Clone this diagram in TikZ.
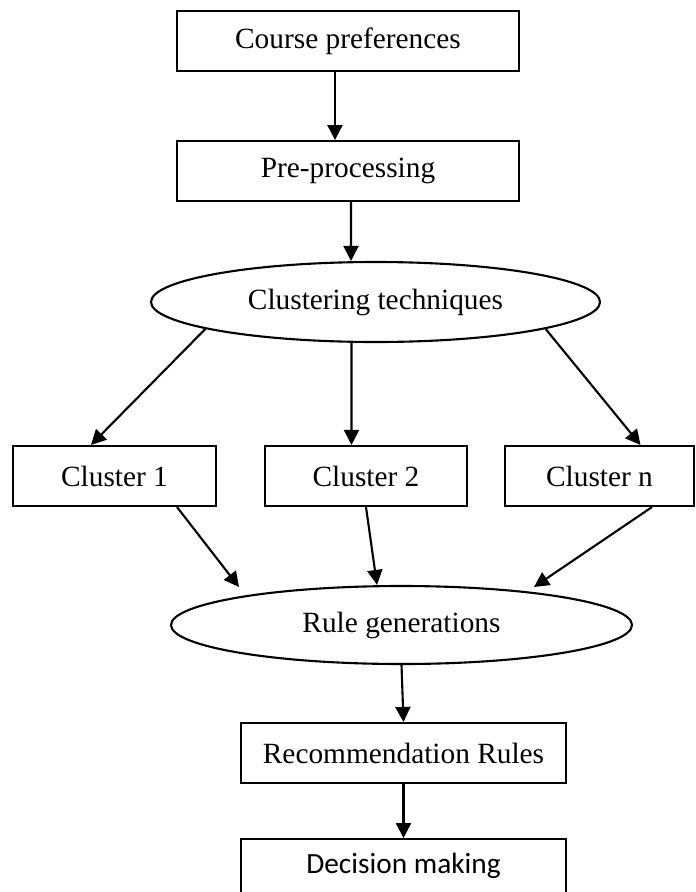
\documentclass[tikz,border=0pt]{standalone}
\usepackage{fontspec}
\setmainfont{Liberation Serif}
\newfontfamily\calibrifont{Carlito}
\usepackage{tikz}
\usetikzlibrary{shapes,arrows.meta,positioning}

\begin{document}
\begin{tikzpicture}[
	box/.style={draw, line width=1.2pt, rectangle, minimum height=1.2cm, inner sep=0pt},
	oval/.style={draw, line width=1.2pt, ellipse, inner sep=0pt},
	every node/.style={font=\fontsize{16.7}{20}\selectfont},
	every edge/.style={draw, line width=1.2pt, -{Triangle[length=0.3cm,width=0.3cm]}}
	]
	\useasboundingbox (0,0) rectangle (13.9,-17.84);
	\node[box, minimum width=6.84cm] (1) at (6.96,-0.82) {Course preferences};
	\node[box, minimum width=6.84cm] (2) [below = 1.36cm of 1] {Pre-processing};
	\node[oval, minimum width=8.98cm, minimum height=1.6cm] (3) at (7.51,-6.04) {Clustering techniques};
	\node[box, minimum width=4.06cm] (4) at (2.29,-9.52) {Cluster 1};
	\node[box, minimum width=4.04cm] (5) at (7.32,-9.52) {Cluster 2};
	\node[box, minimum width=3.78cm] (6) at (11.99,-9.52) {Cluster n};
	\node[oval, minimum width=9.22cm, minimum height=1.56cm] (7) at (8.03,-12.5) {Rule generations};
	\node[box, minimum width=6.5cm] (8) at (8.07,-15.06) {Recommendation Rules};
	\node[box, minimum width=6.5cm, minimum height=1.08cm] (9) [below = 1.08cm of 8] {\calibrifont Decision making};
	
	\coordinate (10) at (4.78,-11.74);
	\coordinate (11) at (10.68,-11.74);
	
	\path ([xshift=-0.26cm]1.south) edge ([xshift=-0.26cm]2.north);
	\path ([xshift=0.06cm]2.south) edge ([xshift=-0.49cm]3.north);
	\path (3.189) edge ([xshift=-0.47cm]4.north);
	\path ([xshift=-0.48cm]3.south) edge ([xshift=-0.29cm]5.north);
	\path (3.351.5) edge ([xshift=0.82cm]6.north);
	\path ([xshift=1.25cm]4.south) edge (10);
	\path (5.south) edge ([xshift=-0.49cm]7.north);
	\path ([xshift=1.05cm]6.south) edge (11);
	\path (7.south) edge (8.north);
	\path (8) edge (9);
\end{tikzpicture}
\end{document}
